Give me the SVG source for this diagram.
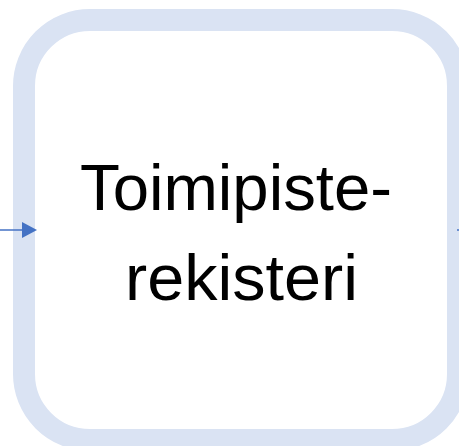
<svg xmlns="http://www.w3.org/2000/svg" width="459" height="446" viewBox="0 0 459 446">
  <defs>
    <style>
      .frame { fill: #FFFFFF; stroke: #DAE3F3; stroke-width: 22; }
      .label { font-family: "Liberation Sans", "Open Sans", sans-serif; font-size: 64px; fill: #000000; }
      .conn { stroke: #4472C4; stroke-width: 1.5; fill: none; }
    </style>
    <marker id="arrow" markerWidth="10" markerHeight="10" refX="9" refY="5" orient="auto" markerUnits="userSpaceOnUse" viewBox="0 0 10 10">
      <path d="M0,0 L10,5 L0,10 Z" fill="#4472C4"/>
    </marker>
  </defs>
  <g id="node-toimipisterekisteri">
    <rect class="frame" x="24" y="20" width="434" height="420" rx="66" ry="66"/>
    <text class="label" x="80" y="210" textLength="312" lengthAdjust="spacingAndGlyphs">Toimipiste-</text>
    <text class="label" x="125" y="300" textLength="233" lengthAdjust="spacingAndGlyphs">rekisteri</text>
  </g>
  <g id="connectors">
    <line class="conn" x1="0" y1="230" x2="22" y2="230"/>
    <path d="M22,222 L37,230 L22,238 Z" fill="#4472C4"/>
    <line class="conn" x1="457" y1="230" x2="459" y2="230"/>
  </g>
</svg>
